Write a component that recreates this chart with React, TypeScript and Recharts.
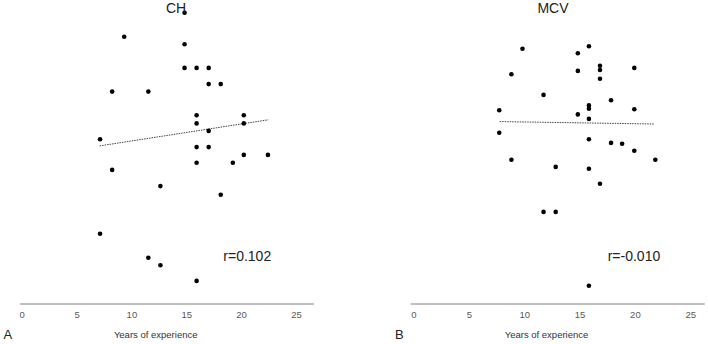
import React from 'react';
import { ScatterChart, Scatter, XAxis, YAxis, ReferenceLine } from 'recharts';

// x = years of experience, y = marker value (no y axis shown, arbitrary 0-100 units)
const xTicks = [0, 5, 10, 15, 20, 25];

const chPoints = [
  { x: 14.8, y: 97.1 }, { x: 9.3, y: 89.1 }, { x: 14.8, y: 86.6 },
  { x: 14.8, y: 78.7 }, { x: 15.9, y: 78.7 }, { x: 17.0, y: 78.7 },
  { x: 17.0, y: 73.3 }, { x: 18.1, y: 73.3 }, { x: 8.2, y: 70.8 },
  { x: 11.5, y: 70.8 }, { x: 15.9, y: 62.9 }, { x: 20.2, y: 62.9 },
  { x: 15.9, y: 60.2 }, { x: 20.2, y: 60.2 }, { x: 17.0, y: 57.7 },
  { x: 7.1, y: 54.9 }, { x: 15.9, y: 52.3 }, { x: 17.0, y: 52.3 },
  { x: 20.2, y: 49.7 }, { x: 22.4, y: 49.7 }, { x: 15.9, y: 47.1 },
  { x: 19.2, y: 47.1 }, { x: 8.2, y: 44.7 }, { x: 12.6, y: 39.3 },
  { x: 18.1, y: 36.4 }, { x: 7.1, y: 23.4 }, { x: 11.5, y: 15.4 },
  { x: 12.6, y: 12.9 }, { x: 15.9, y: 7.7 },
];

const mcvPoints = [
  { x: 15.8, y: 85.9 }, { x: 9.8, y: 85.1 }, { x: 14.8, y: 83.6 },
  { x: 16.8, y: 79.4 }, { x: 19.9, y: 78.7 }, { x: 14.8, y: 77.7 },
  { x: 16.8, y: 78.0 }, { x: 8.8, y: 76.6 }, { x: 16.8, y: 75.1 },
  { x: 11.7, y: 69.7 }, { x: 17.8, y: 67.9 }, { x: 15.8, y: 66.2 },
  { x: 15.8, y: 65.1 }, { x: 7.7, y: 64.6 }, { x: 19.9, y: 64.9 },
  { x: 14.8, y: 63.2 }, { x: 15.8, y: 61.7 }, { x: 7.7, y: 57.1 },
  { x: 15.8, y: 54.9 }, { x: 17.8, y: 53.7 }, { x: 18.8, y: 53.4 },
  { x: 19.9, y: 51.1 }, { x: 8.8, y: 48.1 }, { x: 21.8, y: 48.1 },
  { x: 12.8, y: 45.7 }, { x: 15.8, y: 45.1 }, { x: 16.8, y: 40.1 },
  { x: 11.7, y: 30.7 }, { x: 12.8, y: 30.7 }, { x: 15.8, y: 6.1 },
];

// fitted regression lines, end points
const chTrend = [{ x: 7.06, y: 52.7 }, { x: 22.43, y: 61.4 }];
const mcvTrend = [{ x: 7.74, y: 60.8 }, { x: 21.65, y: 60.0 }];

const FONT = '"Liberation Sans", Arial, sans-serif';

const Dot = (props: any) => <circle cx={props.cx} cy={props.cy} r={2.3} fill="#000" />;

interface PanelProps {
  points: { x: number; y: number }[];
  trend: { x: number; y: number }[];
  domain: [number, number];
  margin: { top: number; right: number; bottom: number; left: number };
}

const Panel: React.FC<PanelProps> = ({ points, trend, domain, margin }) => (
  <ScatterChart width={354} height={344} margin={margin}>
    <XAxis
      type="number"
      dataKey="x"
      domain={domain}
      ticks={xTicks}
      interval={0}
      allowDataOverflow
      height={40}
      axisLine={{ stroke: '#808080', strokeWidth: 1 }}
      tickLine={false}
      tickSize={5}
      tickMargin={2}
      tick={{ fill: '#595959', fontSize: 9.5, fontFamily: FONT }}
    />
    <YAxis type="number" dataKey="y" domain={[0, 100]} hide />
    <ReferenceLine
      segment={trend}
      stroke="#444"
      strokeWidth={1}
      strokeDasharray="1.5 1"
    />
    <Scatter data={points} fill="#000" shape={Dot} isAnimationActive={false} />
  </ScatterChart>
);

const App: React.FC = () => (
  <div style={{ position: 'absolute', left: 0, top: 0, width: 708, height: 344, background: '#fff' }}>
    <div style={{ position: 'absolute', left: 0, top: 0 }}>
      <Panel points={chPoints} trend={chTrend} domain={[-0.2, 26.6]}
        margin={{ top: 4, right: 40, bottom: 0, left: 20 }} />
    </div>
    <div style={{ position: 'absolute', left: 354, top: 0 }}>
      <Panel points={mcvPoints} trend={mcvTrend} domain={[-0.3, 26.26]}
        margin={{ top: 4, right: 3.3, bottom: 0, left: 56.7 }} />
    </div>
    <svg width={708} height={344} style={{ position: 'absolute', left: 0, top: 0, pointerEvents: 'none' }}
      fontFamily={FONT}>
      <text x={176} y={12.7} fontSize={14} fill="#222" textAnchor="middle">CH</text>
      <text x={553} y={13.3} fontSize={14} fill="#222" textAnchor="middle">MCV</text>
      <text x={223.3} y={260.5} fontSize={14} fill="#222">r=0.102</text>
      <text x={607.7} y={260.5} fontSize={14} fill="#222">r=-0.010</text>
      <text x={155.7} y={337.5} fontSize={9.5} fill="#333" textAnchor="middle">Years of experience</text>
      <text x={546.5} y={337.5} fontSize={9.5} fill="#333" textAnchor="middle">Years of experience</text>
      <text x={3.5} y={339} fontSize={13} fill="#222">A</text>
      <text x={395} y={339} fontSize={13} fill="#222">B</text>
    </svg>
  </div>
);

export default App;
